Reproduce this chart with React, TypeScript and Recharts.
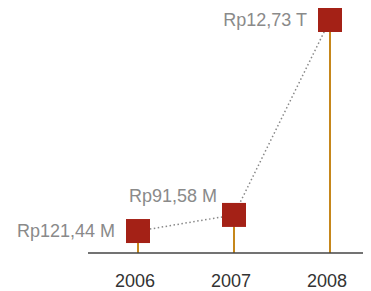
import React from 'react';
import { ComposedChart, Bar, Line, XAxis, YAxis, LabelList } from 'recharts';

// Categories (years)
const years = ['2006', '2007', '2008'];
// Value labels as printed on the chart
const valueLabels = ['Rp121,44 M', 'Rp91,58 M', 'Rp12,73 T'];
// Plotted heights (in the chart's own units)
const plotted = [1.2, 2.08, 12.73];
// Where each value label sits relative to its marker
const labelPlacement = ['left', 'upperLeft', 'left'];

const data = years.map((year, i) => ({
  year,
  value: plotted[i],
  label: valueLabels[i],
}));

const SQ = 24;
const FONT = '"Liberation Sans", Arial, Helvetica, sans-serif';

const SquareDot = (props: any) => {
  const { cx, cy } = props;
  if (cx == null || cy == null) return null;
  return <rect x={cx - SQ / 2} y={cy - SQ / 2} width={SQ} height={SQ} fill="#a42116" />;
};

const Stem = (props: any) => {
  const { x, y, width, height } = props;
  return <rect x={x} y={y} width={width} height={height} fill="#c6871b" />;
};

const ValueLabel = (props: any) => {
  const { x, y, index } = props;
  const place = labelPlacement[index];
  const text = valueLabels[index];
  if (place === 'upperLeft') {
    return (
      <text x={x - 17} y={y - 13} textAnchor="end" fontSize={18} fill="#8a8a8a" fontFamily={FONT}>
        {text}
      </text>
    );
  }
  return (
    <text x={x - SQ / 2 - 11} y={y + 6} textAnchor="end" fontSize={18} fill="#8a8a8a" fontFamily={FONT}>
      {text}
    </text>
  );
};

export default function App() {
  return (
    <div style={{ width: 363, height: 283, overflow: 'hidden' }}>
      <ComposedChart
        width={370}
        height={283}
        data={data}
        margin={{ top: 12, right: 0, bottom: 0, left: 80 }}
      >
        <XAxis
          dataKey="year"
          padding={{ left: 2, right: 0 }}
          axisLine={{ stroke: '#444', strokeWidth: 1.3 }}
          tickLine={false}
          tickMargin={15}
          height={38}
          tick={{ fill: '#333', fontSize: 18, fontFamily: FONT, dx: -3 }}
        />
        <YAxis hide domain={[0, 12.73]} />
        <Bar dataKey="value" barSize={2} shape={<Stem />} isAnimationActive={false} />
        <Line
          dataKey="value"
          stroke="#888"
          strokeWidth={1.5}
          strokeDasharray="1.5 2.5"
          dot={<SquareDot />}
          activeDot={false}
          isAnimationActive={false}
        >
          <LabelList dataKey="label" content={<ValueLabel />} />
        </Line>
      </ComposedChart>
    </div>
  );
}
